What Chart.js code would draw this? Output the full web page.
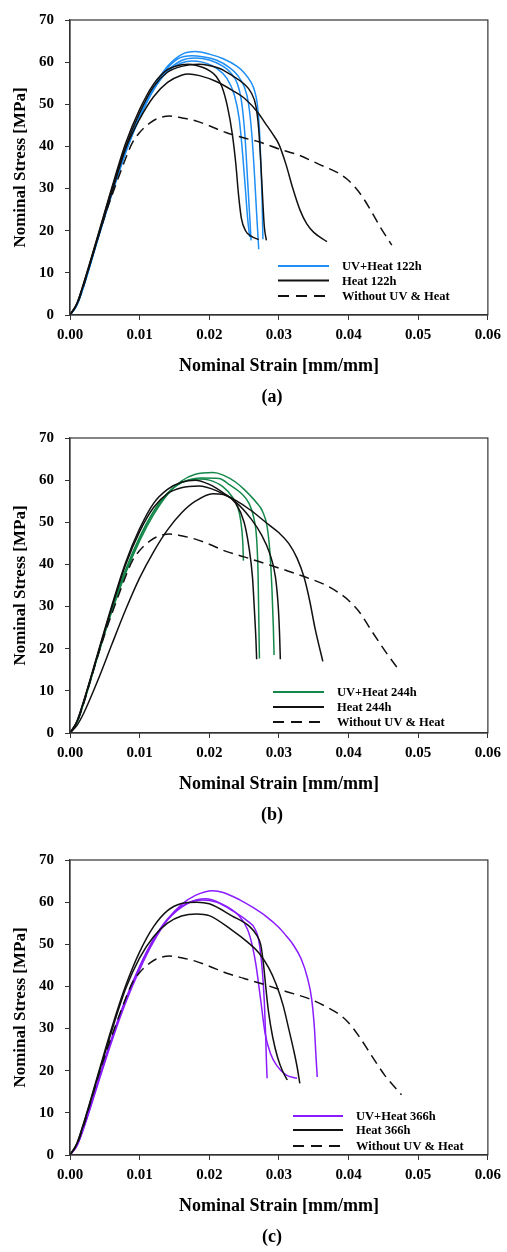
<!DOCTYPE html>
<html>
<head>
<meta charset="utf-8">
<script src="https://cdn.jsdelivr.net/npm/chart.js@4.4.1/dist/chart.umd.min.js"></script>
<style>
  body { margin: 0; background: #fff; }
  .panel { position: absolute; left: 0; width: 507px; height: 420px; }
</style>
</head>
<body>
<div class="panel" style="top:0px"><canvas id="chartA" width="507" height="420"></canvas></div>
<div class="panel" style="top:418px"><canvas id="chartB" width="507" height="420"></canvas></div>
<div class="panel" style="top:840px"><canvas id="chartC" width="507" height="420"></canvas></div>
<script>
// tick labels
const strainTicks = [0, 0.01, 0.02, 0.03, 0.04, 0.05, 0.06];
const stressTicks = [0, 10, 20, 30, 40, 50, 60, 70];

// [strain, stress]
const noUV_a = [[0,0],[0.001,2.5],[0.002,7.2],[0.003,12.8],[0.004,18.3],[0.005,23.5],[0.006,28.3],[0.007,32.8],[0.008,37.2],[0.009,41.0],[0.010,43.3],[0.0105,44.2],[0.0115,45.6],[0.0124,46.5],[0.0143,47.2],[0.016,46.8],[0.018,46.1],[0.020,44.9],[0.0224,43.3],[0.025,42.0],[0.0271,41.1],[0.030,39.4],[0.0329,37.9],[0.0357,35.8],[0.0386,33.6],[0.0398,32.2],[0.041,30.2],[0.042,28.0],[0.0432,24.8],[0.0445,21.0],[0.0462,16.6]];
const noUV_b = [[0,0],[0.001,2.5],[0.002,7.2],[0.003,12.8],[0.004,18.3],[0.005,23.5],[0.006,28.3],[0.007,32.8],[0.008,37.2],[0.009,41.0],[0.010,43.3],[0.0105,44.2],[0.0115,45.6],[0.0124,46.5],[0.0143,47.2],[0.016,46.8],[0.018,46.0],[0.020,44.8],[0.0224,43.1],[0.025,41.8],[0.028,40.2],[0.0310,38.6],[0.0338,37.0],[0.0367,35.1],[0.0390,32.8],[0.0403,31.0],[0.0416,28.6],[0.0434,24.0],[0.0453,19.3],[0.0474,14.6]];
const noUV_c = [[0,0],[0.001,2.5],[0.002,7.2],[0.003,12.8],[0.004,18.3],[0.005,23.5],[0.006,28.3],[0.007,32.8],[0.008,37.2],[0.009,41.0],[0.010,43.3],[0.0105,44.2],[0.0115,45.6],[0.0124,46.5],[0.0143,47.2],[0.016,46.8],[0.018,46.0],[0.020,44.8],[0.0224,43.2],[0.025,41.9],[0.028,40.4],[0.0310,38.8],[0.0343,37.1],[0.0370,35.0],[0.0388,33.2],[0.0400,31.4],[0.0414,28.4],[0.0433,23.6],[0.0452,18.9],[0.0476,14.3]];

// panel (a)
const uv122_1 = [[0,0],[0.001,2.4],[0.002,7.0],[0.004,18.0],[0.006,28.8],[0.008,38.8],[0.010,47.2],[0.012,54.0],[0.014,59.0],[0.016,61.8],[0.018,62.5],[0.020,61.9],[0.022,60.8],[0.024,59.0],[0.025,57.5],[0.026,55.2],[0.0265,53.2],[0.0269,50.0],[0.0272,44.0],[0.0274,36.0],[0.0276,26.0],[0.0277,18.0]];
const uv122_2 = [[0,0],[0.001,2.5],[0.002,7.2],[0.004,18.3],[0.006,29.2],[0.008,39.2],[0.010,47.5],[0.012,54.0],[0.014,58.6],[0.0155,60.8],[0.0175,61.5],[0.019,61.3],[0.021,60.5],[0.023,58.6],[0.024,57.0],[0.025,54.2],[0.0256,50.5],[0.0261,43.0],[0.0265,33.0],[0.0268,24.0],[0.0271,15.6]];
const uv122_3 = [[0,0],[0.001,2.4],[0.002,7.0],[0.004,18.0],[0.006,28.6],[0.008,38.5],[0.010,46.8],[0.012,53.4],[0.014,57.9],[0.016,60.4],[0.018,61.0],[0.020,60.5],[0.022,59.0],[0.023,57.6],[0.024,55.0],[0.0246,51.0],[0.0251,43.0],[0.0255,32.0],[0.0258,23.5],[0.026,17.7]];
const uv122_4 = [[0,0],[0.001,2.5],[0.002,7.1],[0.004,18.2],[0.006,28.9],[0.008,38.8],[0.010,47.0],[0.012,53.5],[0.014,57.8],[0.016,59.8],[0.0175,60.3],[0.019,60.0],[0.021,58.6],[0.0225,56.2],[0.0236,52.2],[0.0243,46.5],[0.0248,38.0],[0.0252,29.5],[0.0255,23.0],[0.0258,18.5]];
const heat122_1 = [[0,0],[0.001,2.8],[0.002,7.8],[0.004,18.9],[0.006,30.2],[0.008,40.8],[0.010,48.8],[0.012,54.8],[0.014,58.2],[0.016,59.4],[0.017,59.5],[0.019,58.8],[0.020,58.0],[0.021,56.6],[0.0218,54.2],[0.0226,49.5],[0.0233,43.0],[0.0238,36.0],[0.0242,28.5],[0.0246,23.0],[0.0252,20.0],[0.026,18.7],[0.0271,17.9]];
const heat122_2 = [[0,0],[0.001,2.7],[0.002,7.6],[0.004,18.6],[0.006,29.8],[0.008,40.0],[0.010,48.0],[0.012,54.2],[0.014,57.6],[0.016,59.0],[0.0185,59.5],[0.020,59.2],[0.0215,58.5],[0.0233,56.8],[0.025,54.8],[0.026,52.8],[0.0267,49.5],[0.0271,44.0],[0.0274,36.0],[0.0277,26.5],[0.0279,21.0],[0.0282,17.7]];
const heat122_3 = [[0,0],[0.001,2.6],[0.002,7.4],[0.004,18.2],[0.006,29.0],[0.008,39.5],[0.010,46.5],[0.012,51.8],[0.014,55.2],[0.016,56.9],[0.017,57.2],[0.0186,56.8],[0.021,55.4],[0.0233,53.3],[0.0252,51.2],[0.027,48.0],[0.028,45.6],[0.029,43.2],[0.030,40.5],[0.031,35.8],[0.032,30.0],[0.033,25.0],[0.034,21.6],[0.035,19.6],[0.0369,17.4]];

// panel (b)
const uv244_1 = [[0,0],[0.001,2.5],[0.002,7.3],[0.004,18.3],[0.006,28.8],[0.008,38.0],[0.010,45.6],[0.012,51.8],[0.014,56.6],[0.016,59.8],[0.018,61.4],[0.0205,61.8],[0.022,61.2],[0.0238,59.5],[0.025,57.8],[0.0267,54.8],[0.0277,52.4],[0.0283,49.0],[0.0287,43.0],[0.029,34.0],[0.0292,25.0],[0.0293,18.5]];
const uv244_2 = [[0,0],[0.001,2.5],[0.002,7.4],[0.004,18.5],[0.006,29.2],[0.008,38.5],[0.010,46.2],[0.012,52.4],[0.014,56.8],[0.016,59.4],[0.019,60.5],[0.0214,60.4],[0.023,58.8],[0.0245,57.0],[0.0257,54.5],[0.0264,51.0],[0.0268,46.0],[0.027,38.0],[0.0271,28.0],[0.0272,17.7]];
const uv244_3 = [[0,0],[0.001,2.6],[0.002,7.5],[0.004,18.6],[0.006,29.4],[0.008,38.8],[0.010,46.5],[0.012,52.6],[0.014,56.9],[0.016,59.4],[0.0186,60.3],[0.020,60.0],[0.0219,58.5],[0.0233,56.0],[0.0241,53.5],[0.0245,50.5],[0.0248,45.5],[0.0249,40.9]];
const heat244_1 = [[0,0],[0.001,2.8],[0.002,7.8],[0.004,19.0],[0.006,30.2],[0.008,40.5],[0.010,48.5],[0.012,54.5],[0.014,57.8],[0.016,59.5],[0.018,60.0],[0.020,59.0],[0.022,57.0],[0.0238,54.5],[0.025,50.0],[0.0257,44.0],[0.0262,37.0],[0.0265,28.5],[0.0267,22.0],[0.0268,17.5]];
const heat244_2 = [[0,0],[0.001,2.7],[0.002,7.6],[0.004,18.7],[0.006,29.8],[0.008,40.0],[0.010,47.8],[0.012,53.5],[0.014,56.8],[0.016,58.2],[0.0185,58.6],[0.021,57.5],[0.0238,54.8],[0.026,50.8],[0.0275,47.0],[0.0287,42.5],[0.0295,37.0],[0.0299,30.0],[0.0301,23.0],[0.0302,17.5]];
const heat244_3 = [[0,0],[0.001,1.8],[0.002,4.8],[0.004,12.5],[0.006,21.0],[0.008,29.3],[0.010,36.8],[0.012,43.0],[0.014,48.2],[0.016,52.2],[0.018,55.0],[0.0205,56.8],[0.022,56.6],[0.0238,55.2],[0.026,52.8],[0.0281,50.0],[0.030,47.5],[0.0314,45.0],[0.0326,41.5],[0.0336,37.0],[0.0344,31.5],[0.0352,24.7],[0.0363,17.0]];

// panel (c)
const uv366_1 = [[0,0],[0.001,2.2],[0.002,6.5],[0.004,16.8],[0.006,27.0],[0.008,36.2],[0.010,44.0],[0.012,50.6],[0.014,55.8],[0.016,59.4],[0.018,61.6],[0.0205,62.7],[0.022,62.3],[0.0243,60.6],[0.0262,58.8],[0.0281,56.7],[0.030,54.0],[0.031,52.1],[0.032,50.0],[0.0332,46.5],[0.0341,42.0],[0.0347,37.0],[0.0351,30.0],[0.0353,24.0],[0.0355,18.5]];
const uv366_2 = [[0,0],[0.001,2.3],[0.002,6.7],[0.004,17.2],[0.006,27.5],[0.008,36.8],[0.010,44.6],[0.012,51.0],[0.014,55.8],[0.017,59.8],[0.0195,60.8],[0.0214,59.9],[0.0243,56.7],[0.0255,53.5],[0.0262,49.5],[0.0267,45.1],[0.0274,36.5],[0.028,29.0],[0.0288,24.0],[0.0297,21.2],[0.031,19.0],[0.0326,18.2]];
const uv366_3 = [[0,0],[0.001,2.3],[0.002,6.8],[0.004,17.4],[0.006,27.8],[0.008,37.0],[0.010,44.8],[0.012,51.2],[0.014,56.0],[0.016,59.0],[0.019,60.5],[0.021,60.0],[0.0233,58.0],[0.0255,55.5],[0.0265,53.8],[0.0271,51.0],[0.0276,44.0],[0.0279,36.5],[0.0281,28.0],[0.0282,22.5],[0.0283,18.2]];
const heat366_1 = [[0,0],[0.001,2.8],[0.002,7.8],[0.004,19.0],[0.006,30.2],[0.008,40.2],[0.010,48.2],[0.012,54.2],[0.014,58.0],[0.016,59.7],[0.0182,60.0],[0.020,59.6],[0.0233,56.7],[0.0258,54.2],[0.0268,52.2],[0.0274,49.8],[0.0278,45.0],[0.0281,40.0],[0.0285,34.0],[0.0291,28.0],[0.0298,23.2],[0.0305,20.0],[0.0312,17.8]];
const heat366_2 = [[0,0],[0.001,2.7],[0.002,7.6],[0.004,18.6],[0.006,29.5],[0.008,39.5],[0.010,46.8],[0.012,51.8],[0.014,55.0],[0.016,56.7],[0.0182,57.2],[0.020,56.8],[0.0233,53.3],[0.0255,50.5],[0.0271,48.0],[0.0285,44.5],[0.0296,40.5],[0.0306,35.5],[0.0314,30.0],[0.0321,25.0],[0.0326,21.0],[0.033,17.0]];

const blue = '#1f8ef5';
const green = '#14884a';
const purple = '#8a1cff';
const black = '#111111';
const font = 'Liberation Serif, Times New Roman, serif';

function line(points, color, dashed) {
    return {
        data: points.map(p => ({ x: p[0], y: p[1] })),
        borderColor: color,
        borderWidth: 1.5,
        borderDash: dashed ? [10, 6] : [],
        pointRadius: 0,
        fill: false,
        cubicInterpolationMode: 'monotone'
    };
}

// frame, legend inside the plot, and panel letter
const panelDeco = {
    id: 'panelDeco',
    afterDraw(chart, args, opts) {
        const ctx = chart.ctx;
        const a = chart.chartArea;
        ctx.save();
        ctx.strokeStyle = '#333';
        ctx.lineWidth = 1.2;
        ctx.strokeRect(a.left, a.top, a.right - a.left, a.bottom - a.top);

        ctx.font = 'bold 12.5px ' + font;
        ctx.textBaseline = 'middle';
        ctx.fillStyle = '#000';
        opts.items.forEach((it, i) => {
            const y = a.top + opts.rows[i];
            ctx.beginPath();
            ctx.strokeStyle = it.color;
            ctx.lineWidth = 1.8;
            ctx.setLineDash(it.dashed ? [11, 7] : []);
            ctx.moveTo(opts.x1, y);
            ctx.lineTo(opts.x2, y);
            ctx.stroke();
            ctx.setLineDash([]);
            ctx.fillText(it.text, opts.tx, y + 1);
        });

        ctx.font = 'bold 18px ' + font;
        ctx.textAlign = 'center';
        ctx.fillText(opts.letter, 272, 397);
        ctx.restore();
    }
};

function makeChart(id, datasets, deco) {
    new Chart(document.getElementById(id), {
        type: 'line',
        data: { datasets: datasets },
        plugins: [panelDeco],
        options: {
            responsive: false,
            animation: false,
            layout: { padding: { top: 13, right: 17, left: 0, bottom: 0 } },
            plugins: {
                legend: { display: false },
                tooltip: { enabled: false },
                panelDeco: deco
            },
            scales: {
                x: {
                    type: 'linear',
                    min: 0,
                    max: 0.06,
                    afterBuildTicks: s => { s.ticks = strainTicks.map(v => ({ value: v })); },
                    afterFit: s => { s.height = 105; },
                    ticks: {
                        callback: v => v.toFixed(2),
                        color: '#000',
                        padding: 6,
                        maxRotation: 0,
                        font: { family: font, size: 15, weight: 'bold' }
                    },
                    grid: { drawOnChartArea: false, drawTicks: true, tickLength: 5, color: '#333' },
                    border: { color: '#333', width: 1.2 },
                    title: {
                        display: true,
                        text: 'Nominal Strain [mm/mm]',
                        color: '#000',
                        padding: { top: 0, bottom: 43 },
                        font: { family: font, size: 18, weight: 'bold' }
                    }
                },
                y: {
                    min: 0,
                    max: 70,
                    afterBuildTicks: s => { s.ticks = stressTicks.map(v => ({ value: v })); },
                    afterFit: s => { s.width = 70; },
                    ticks: {
                        color: '#000',
                        padding: 11,
                        font: { family: font, size: 15, weight: 'bold' }
                    },
                    grid: { drawOnChartArea: false, drawTicks: true, tickLength: 5, color: '#333' },
                    border: { color: '#333', width: 1.2 },
                    title: {
                        display: true,
                        text: 'Nominal Stress [MPa]',
                        color: '#000',
                        padding: { top: 10, bottom: 0 },
                        font: { family: font, size: 17, weight: 'bold' }
                    }
                }
            }
        }
    });
}

makeChart('chartA', [
    line(noUV_a, black, true),
    line(heat122_1, black), line(heat122_2, black), line(heat122_3, black),
    line(uv122_1, blue), line(uv122_2, blue), line(uv122_3, blue), line(uv122_4, blue)
], {
    letter: '(a)', x1: 278, x2: 329, tx: 342, rows: [246, 260.5, 276],
    items: [
        { text: 'UV+Heat 122h', color: blue },
        { text: 'Heat 122h', color: black },
        { text: 'Without UV & Heat', color: black, dashed: true }
    ]
});

makeChart('chartB', [
    line(noUV_b, black, true),
    line(heat244_1, black), line(heat244_2, black), line(heat244_3, black),
    line(uv244_1, green), line(uv244_2, green), line(uv244_3, green)
], {
    letter: '(b)', x1: 273, x2: 324, tx: 337, rows: [254, 269, 284],
    items: [
        { text: 'UV+Heat 244h', color: green },
        { text: 'Heat 244h', color: black },
        { text: 'Without UV & Heat', color: black, dashed: true }
    ]
});

makeChart('chartC', [
    line(noUV_c, black, true),
    line(heat366_1, black), line(heat366_2, black),
    line(uv366_1, purple), line(uv366_2, purple), line(uv366_3, purple)
], {
    letter: '(c)', x1: 293, x2: 343, tx: 356, rows: [256, 270, 286],
    items: [
        { text: 'UV+Heat 366h', color: purple },
        { text: 'Heat 366h', color: black },
        { text: 'Without UV & Heat', color: black, dashed: true }
    ]
});
</script>
</body>
</html>
